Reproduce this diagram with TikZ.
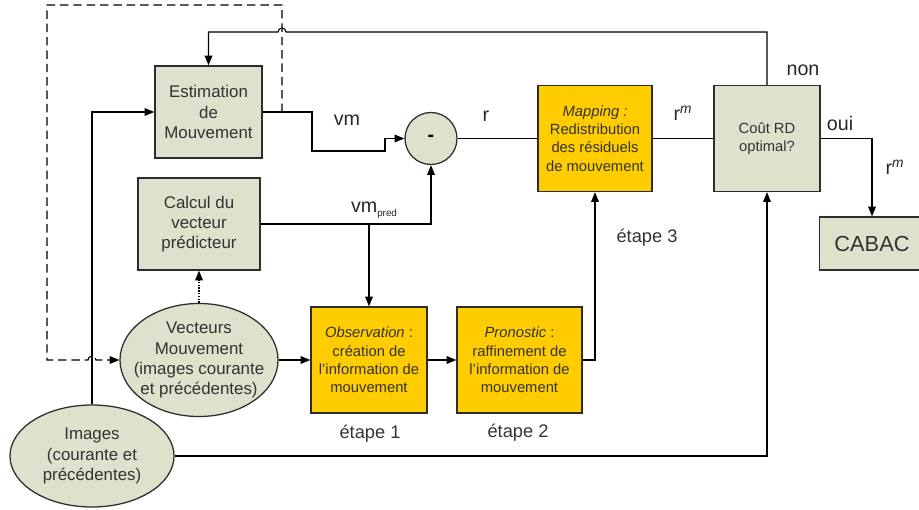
\documentclass[tikz,border=0pt]{standalone}
\usepackage{fontspec}
\setmainfont{Liberation Sans}
\usetikzlibrary{arrows.meta,positioning,calc,shapes.geometric}
\definecolor{gvert}{RGB}{221,226,204}
\definecolor{gjaune}{RGB}{255,204,0}
\definecolor{gtexte}{RGB}{51,51,51}
\definecolor{gtrait}{RGB}{45,45,45}

\begin{document}
\begin{tikzpicture}[x=0.025cm, y=-0.025cm,
  bloc/.style={rectangle, draw=gtrait, line width=0.9pt, fill=gvert, text=gtexte, align=center, inner sep=0pt, font=\fontsize{12}{14.3}\selectfont},
  etape/.style={bloc, fill=gjaune, font=\fontsize{10.5}{13}\selectfont},
  ovale/.style={ellipse, draw=gtrait, line width=0.9pt, fill=gvert, text=gtexte, align=center, inner sep=0pt, font=\fontsize{12}{14.3}\selectfont},
  lbl/.style={text=black!85, font=\fontsize{14}{16}\selectfont, inner sep=0pt},
  etq/.style={text=gtexte, font=\fontsize{13}{15}\selectfont, inner sep=0pt},
  lien/.style={draw=black, line width=0.8pt},
  fleche/.style={lien, -{Triangle[length=7pt,width=5.5pt]}},
  tirets/.style={fleche, dash pattern=on 6pt off 3.5pt}
]
  \useasboundingbox (0,0) rectangle (919,510);
  \clip (0,0) rectangle (919,510);

  % Blocs
  \node[bloc, minimum width=2.675cm, minimum height=2.3cm] (est) at (208.5,112) {Estimation\\de\\Mouvement};
  \node[bloc, minimum width=3.05cm, minimum height=2.3cm] (calc) at (199,224) {Calcul du\\vecteur\\prédicteur};
  \node[ovale, inner sep=-7pt, minimum width=3.95cm, minimum height=2.825cm] (vect) at (199,360) {Vecteurs\\Mouvement\\(images courante\\et précédentes)};
  \node[ovale, minimum width=4.1cm, minimum height=2.55cm] (img) at (92,456) {Images\\(courante et\\précédentes)};
  \node[circle, draw=gtrait, line width=0.9pt, fill=gvert, minimum size=1.3cm, inner sep=0pt,
        font=\fontsize{14}{16}\selectfont\bfseries] (moins) at (431,138.5) {-};
  \node[etape, minimum width=2.9cm, minimum height=2.65cm] (obs) at (369,360) {\textit{Observation} :\\création de\\l'information de\\mouvement};
  \node[etape, minimum width=3.125cm, minimum height=2.65cm] (pron) at (519.5,360) {\textit{Pronostic} :\\raffinement de\\l'information de\\mouvement};
  \node[etape, minimum width=2.85cm, minimum height=2.65cm] (map) at (595,138.5) {\textit{Mapping :}\\Redistribution\\des résiduels\\de mouvement};
  \node[bloc, minimum width=2.65cm, minimum height=2.65cm, font=\fontsize{10.5}{13}\selectfont] (cout) at (767,138.5) {Coût RD\\optimal?};
  \node[bloc, minimum width=2.625cm, minimum height=1.325cm, font=\fontsize{15.5}{18}\selectfont] (cabac) at (872,243.5) {CABAC};

  % Etiquettes
  \node[lbl] (l_vm) at (347,120) {vm};
  \node[lbl] (l_pred) at (374,210) {vm\raisebox{-0.4ex}{\fontsize{7}{8}\selectfont pred}};
  \node[lbl] (l_r) at (486,116) {r};
  \node[lbl] (l_rm) at (683,113) {r\textsuperscript{\textit{m}}};
  \node[lbl] (l_non) at (803,70) {non};
  \node[lbl] (l_oui) at (840,123) {oui};
  \node[lbl] (l_rm2) at (895,167) {r\textsuperscript{\textit{m}}};
  \node[etq] (e1) at (370,434) {étape 1};
  \node[etq] (e2) at (518,433) {étape 2};
  \node[etq] (e3) at (647,238) {étape 3};

  % Liaisons
  \coordinate (dep) at (282,112);
  \draw[fleche] (cout.north) -- (cout.north |- 0,32) -- (286,32)
    arc[start angle=0, end angle=180, radius=0.1cm] -- (est.north |- 0,32) -- (est.north);
  \draw[tirets] (dep) -- (282,5) -- (47,5) -- (47,360) -- (88,360)
    arc[start angle=180, end angle=0, radius=0.1cm] -- (vect.west);
  \draw[fleche] (img.north) -- (est.west -| img.north) -- (est.west);
  \draw[fleche] (est.east) -- (312,112) -- (312,151) -- (385,151) -- (385,138.5) -- (moins.west);
  \draw[fleche] (calc.east) -- (moins.south |- calc.east) -- (moins.south);
  \draw[fleche] (obs.north |- calc.east) -- (obs.north);
  \draw[fleche, dash pattern=on 1pt off 1pt] (vect.north) -- (calc.south);
  \draw[fleche] (vect.east) -- (obs.west);
  \draw[fleche] (obs.east) -- (pron.west);
  \draw[fleche] (pron.east) -- (map.south |- pron.east) -- (map.south);
  \draw[lien] (moins.east) -- (map.west);
  \draw[lien] (map.east) -- (cout.west);
  \draw[fleche] (cout.east) -- (cabac.north |- cout.east) -- (cabac.north);
  \draw[fleche] (img.east) -- (cout.south |- img.east) -- (cout.south);
\end{tikzpicture}
\end{document}
